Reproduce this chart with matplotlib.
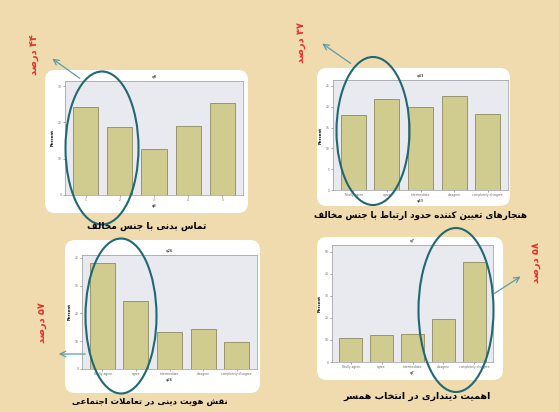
import numpy as np
import matplotlib
matplotlib.use("Agg")
import matplotlib.pyplot as plt
from matplotlib.patches import FancyBboxPatch, Ellipse

# ---- data ----
likert = ["Totally agree", "agree", "intermediate", "disagree", "completely disagree"]
cats_q8 = ["1", "2", "3", "4", "5"]
pct_q8 = [24.2, 18.7, 12.7, 19.0, 25.4]
pct_q43 = [18.0, 21.9, 20.0, 22.6, 18.3]
pct_q26 = [38.2, 24.3, 13.2, 14.3, 9.6]
pct_q7 = [10.9, 12.3, 12.7, 19.5, 45.5]

captions = ["تماس بدنی با جنس مخالف",
            "هنجارهای تعیین کننده حدود ارتباط با جنس مخالف",
            "نقش هویت دینی در تعاملات اجتماعی",
            "اهمیت دینداری در انتخاب همسر"]
notes = ["۴۴ درصد", "۳۷ درصد", "۵۷ درصد", "۵۸ درصد"]

# arabic letters -> (isolated, final, initial, medial)
FORMS = {
    'ا': ('\uFE8D', '\uFE8E', None, None),
    'ب': ('\uFE8F', '\uFE90', '\uFE91', '\uFE92'),
    'ت': ('\uFE95', '\uFE96', '\uFE97', '\uFE98'),
    'ج': ('\uFE9D', '\uFE9E', '\uFE9F', '\uFEA0'),
    'ح': ('\uFEA1', '\uFEA2', '\uFEA3', '\uFEA4'),
    'خ': ('\uFEA5', '\uFEA6', '\uFEA7', '\uFEA8'),
    'د': ('\uFEA9', '\uFEAA', None, None),
    'ر': ('\uFEAD', '\uFEAE', None, None),
    'ز': ('\uFEAF', '\uFEB0', None, None),
    'س': ('\uFEB1', '\uFEB2', '\uFEB3', '\uFEB4'),
    'ش': ('\uFEB5', '\uFEB6', '\uFEB7', '\uFEB8'),
    'ص': ('\uFEB9', '\uFEBA', '\uFEBB', '\uFEBC'),
    'ط': ('\uFEC1', '\uFEC2', '\uFEC3', '\uFEC4'),
    'ع': ('\uFEC9', '\uFECA', '\uFECB', '\uFECC'),
    'ف': ('\uFED1', '\uFED2', '\uFED3', '\uFED4'),
    'ق': ('\uFED5', '\uFED6', '\uFED7', '\uFED8'),
    'ل': ('\uFEDD', '\uFEDE', '\uFEDF', '\uFEE0'),
    'م': ('\uFEE1', '\uFEE2', '\uFEE3', '\uFEE4'),
    'ن': ('\uFEE5', '\uFEE6', '\uFEE7', '\uFEE8'),
    'ه': ('\uFEE9', '\uFEEA', '\uFEEB', '\uFEEC'),
    'و': ('\uFEED', '\uFEEE', None, None),
    'ی': ('\uFBFC', '\uFBFD', '\uFBFE', '\uFBFF'),
    'ک': ('\uFB8E', '\uFB8F', '\uFB90', '\uFB91'),
}


def shape(s):
    out = []
    i = 0
    while i < len(s):
        c = s[i]
        if c not in FORMS:
            out.append(c)
            i += 1
            continue
        prev = s[i-1] if i > 0 else None
        jp = prev in FORMS and FORMS[prev][2] is not None
        if c == 'ل' and i+1 < len(s) and s[i+1] == 'ا':
            out.append('\uFEFC' if jp else '\uFEFB')
            i += 2
            continue
        nxt = s[i+1] if i+1 < len(s) else None
        jn = FORMS[c][2] is not None and nxt in FORMS
        iso, fin, ini, med = FORMS[c]
        if jp and jn:
            out.append(med)
        elif jp:
            out.append(fin)
        elif jn:
            out.append(ini)
        else:
            out.append(iso)
        i += 1
    return ''.join(out)


def rtl(s):
    # shape, then put in visual order (digit runs stay left to right)
    s = shape(s)
    runs = []
    for ch in s:
        d = '\u06F0' <= ch <= '\u06F9'
        if runs and runs[-1][0] == d:
            runs[-1][1] += ch
        else:
            runs.append([d, ch])
    return ''.join(r if d else r[::-1] for d, r in reversed(runs))


W, H = 559, 412
fig = plt.figure(figsize=(W/100, H/100), dpi=100)
fig.patch.set_facecolor('#efdbae')

back = fig.add_axes([0, 0, 1, 1], zorder=0)
back.set_xlim(0, W)
back.set_ylim(H, 0)
back.axis('off')

front = fig.add_axes([0, 0, 1, 1], zorder=5)
front.set_xlim(0, W)
front.set_ylim(H, 0)
front.axis('off')
front.patch.set_alpha(0)

# white rounded panels
for x0, y0, x1, y1 in [(45, 70, 248, 213), (317, 68, 510, 206),
                       (65, 240, 260, 393), (317, 237, 503, 380)]:
    back.add_patch(FancyBboxPatch((x0+10, y0+10), x1-x0-20, y1-y0-20,
                                  boxstyle="round,pad=10", fc='white', ec='none'))


def spss(box, vals, cats, name, ymax, ticks):
    x0, y0, x1, y1 = box
    ax = fig.add_axes([x0/W, 1-y1/H, (x1-x0)/W, (y1-y0)/H], zorder=2)
    ax.set_facecolor('#e8eaef')
    ax.bar(range(len(vals)), vals, width=0.74, color='#d0cb8e', edgecolor='#8c8a60', linewidth=0.6)
    ax.set_ylim(0, ymax)
    ax.set_xlim(-0.6, len(vals)-0.4)
    ax.set_yticks(ticks)
    ax.set_xticks(range(len(vals)))
    ax.set_xticklabels(cats, fontsize=2.2, color='#444444')
    ax.tick_params(labelsize=2.2, length=1.5, width=0.4, pad=1, colors='#666666')
    ax.set_ylabel("Percent", fontsize=2.8, labelpad=2, fontweight='bold')
    ax.set_xlabel(name, fontsize=2.6, labelpad=1)
    ax.set_title(name, fontsize=2.8, pad=2)
    for s in ax.spines.values():
        s.set_color('#999999')
        s.set_linewidth(0.5)
    return ax


spss((65, 81, 243, 195), pct_q8, cats_q8, "q8", 31.4, [0, 10, 20, 30])
spss((333, 80, 508, 190), pct_q43, likert, "q43", 26.4, [0, 5, 10, 15, 20, 25])
spss((82, 255, 257, 369), pct_q26, likert, "q26", 41.0, [0, 10, 20, 30, 40])
spss((332, 245, 493, 362), pct_q7, likert, "q7", 53.0, [0, 10, 20, 30, 40, 50])

# ellipses
for cx, cy, w, h in [(102, 148, 73, 153), (373, 131, 73, 148),
                     (121, 316, 71, 155), (456, 310, 75, 164)]:
    front.add_patch(Ellipse((cx, cy), w, h, fill=False, ec='#1f6874', lw=1.5))

# arrows
for (xs, ys), (xe, ye) in [((82, 80), (50, 57)), ((353, 65), (320, 42)),
                           ((88, 354), (56, 354)), ((492, 295), (523, 275))]:
    front.annotate('', xy=(xe, ye), xytext=(xs, ys),
                   arrowprops=dict(arrowstyle='->', color='#5a9eaa', lw=0.9))

# red percentage notes
for (x, y), t in zip([(35, 55), (301, 42), (42, 323), (536, 263)], notes):
    front.text(x, y, rtl(t), rotation=90, color='#e8302e', fontsize=7, fontweight='bold',
               ha='center', va='center', family=['DejaVu Sans'])

# captions
for (x, y), t, fs in zip([(147, 226), (420, 215), (150, 401), (417, 396)], captions,
                         [6.6, 6.3, 6.1, 6.8]):
    front.text(x, y, rtl(t), color='black', fontsize=fs, fontweight='bold',
               ha='center', va='center', family=['DejaVu Sans'])

fig.savefig('out.png', dpi=100)
